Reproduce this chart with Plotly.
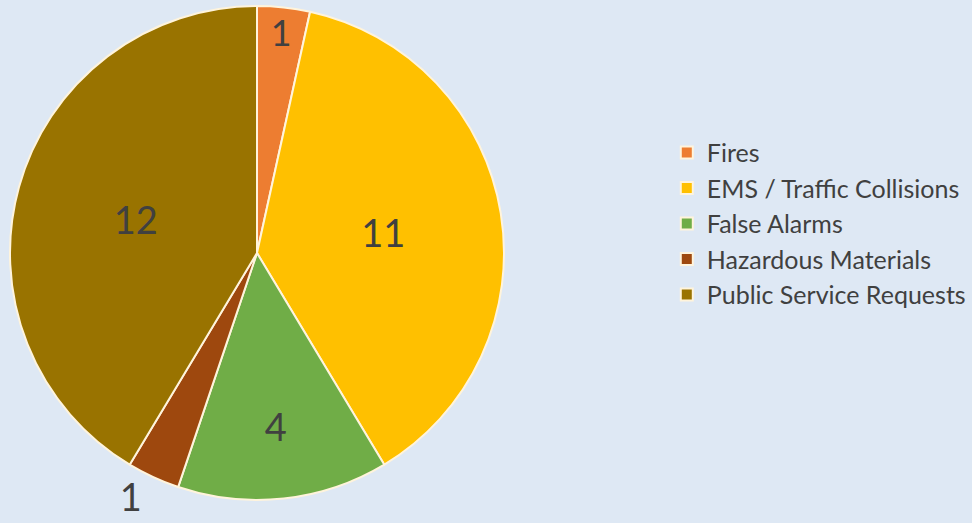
import plotly.graph_objects as go

categories = ["Fires", "EMS / Traffic Collisions", "False Alarms", "Hazardous Materials", "Public Service Requests"]
values = [1, 11, 4, 1, 12]
colors = ["#ED7D31", "#FFC000", "#70AD47", "#9E480E", "#997300"]
text_positions = ["inside", "inside", "inside", "outside", "inside"]

W, H = 972, 523
BG = "#DEE8F4"
fig = go.Figure(go.Pie(
    labels=categories,
    values=values,
    sort=False,
    direction="clockwise",
    rotation=0,
    marker=dict(colors=colors, line=dict(color="#FFF4DC", width=2)),
    textinfo="value",
    textposition=text_positions,
    insidetextorientation="horizontal",
    textfont=dict(size=38, color="#404040", family="Lato"),
    domain=dict(x=[10 / W, 504 / W], y=[(H - 500) / H, (H - 6) / H]),
))
fig.update_layout(
    width=W, height=H,
    margin=dict(l=0, r=0, t=0, b=0),
    paper_bgcolor=BG,
    plot_bgcolor=BG,
    font=dict(family="Lato", color="#404040"),
    legend=dict(x=0.686, y=0.572, xanchor="left", yanchor="middle",
                font=dict(size=25, color="#404040", family="Lato"),
                itemwidth=30, tracegroupgap=0, bgcolor="rgba(0,0,0,0)"),
)
fig.write_html(
    "out.html",
    config={"displayModeBar": False},
    post_script="document.body.style.margin='0';document.body.style.background='" + BG + "';document.body.style.overflow='hidden';",
)
